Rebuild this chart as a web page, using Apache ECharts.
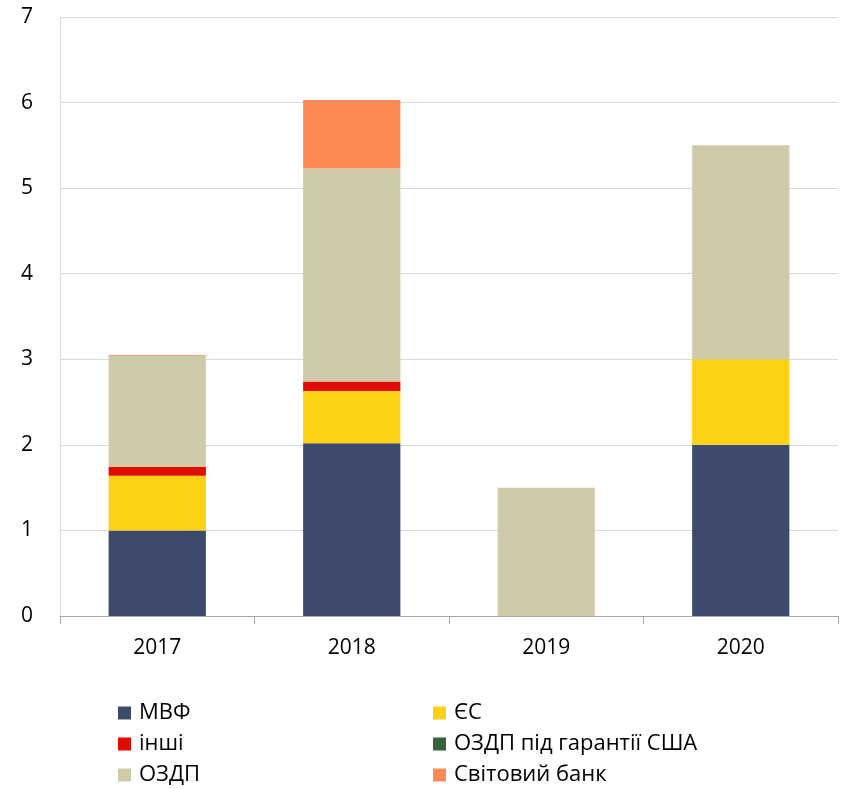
<!DOCTYPE html>
<html><head><meta charset="utf-8">
<script src="https://cdn.jsdelivr.net/npm/echarts@6/dist/echarts.min.js"></script>
<style>html,body{margin:0;padding:0;background:#fff}#c{width:844px;height:789px}</style>
</head><body><div id="c"></div>
<script>
var categories = ['2017', '2018', '2019', '2020'];
var seriesNames = ['МВФ', 'ЄС', 'інші', 'ОЗДП під гарантії США', 'ОЗДП', 'Світовий банк'];
var imf = [1.00, 2.02, 0, 2.00];
var eu = [0.64, 0.61, 0, 1.00];
var others = [0.10, 0.11, 0, 0];
var usGuaranteed = [0, 0, 0, 0];
var eurobonds = [1.30, 2.49, 1.50, 2.50];
var worldBank = [0.01, 0.80, 0, 0];
var yTicks = [0, 1, 2, 3, 4, 5, 6, 7];

var colors = ['#3d4a6b', '#fcd116', '#e00c00', '#376336', '#cfcba8', '#fb8a55'];
var values = [imf, eu, others, usGuaranteed, eurobonds, worldBank];
var font = 'Open Sans';

var chart = echarts.init(document.getElementById('c'));
var series = seriesNames.map(function (n, i) {
  return {
    name: n, type: 'bar', stack: 'total', data: values[i], barWidth: '50%',
    itemStyle: { color: colors[i] }
  };
});
var legendCommon = {
  orient: 'vertical', icon: 'rect', itemWidth: 13, itemHeight: 13, itemGap: 9,
  height: 100,
  textStyle: { fontFamily: font, fontSize: 22, lineHeight: 22, color: '#000', padding: [0, 0, 0, 3] },
  selectedMode: false
};
chart.setOption({
  animation: false,
  color: colors,
  grid: { left: 60, right: 6, top: 17, bottom: 173 },
  legend: [
    Object.assign({}, legendCommon, { left: 113, top: 697, data: [seriesNames[0], seriesNames[2], seriesNames[4]] }),
    Object.assign({}, legendCommon, { left: 428, top: 697, data: [seriesNames[1], seriesNames[3], seriesNames[5]] })
  ],
  xAxis: {
    type: 'category', data: categories,
    axisLine: { lineStyle: { color: '#a6a6a6' } },
    axisTick: { show: true, length: 8, lineStyle: { color: '#a6a6a6' } },
    axisLabel: { fontFamily: font, fontSize: 21, color: '#000', margin: 22 }
  },
  yAxis: {
    type: 'value', min: 0, max: 7, interval: 1,
    axisLine: { show: true, lineStyle: { color: '#d9d9d9' } },
    axisTick: { show: false },
    splitLine: { lineStyle: { color: '#d9d9d9' } },
    axisLabel: { fontFamily: font, fontSize: 21, color: '#000', margin: 27,
      formatter: function (v) { return yTicks.indexOf(v) >= 0 ? String(v) : ''; } }
  },
  series: series
});
</script></body></html>
